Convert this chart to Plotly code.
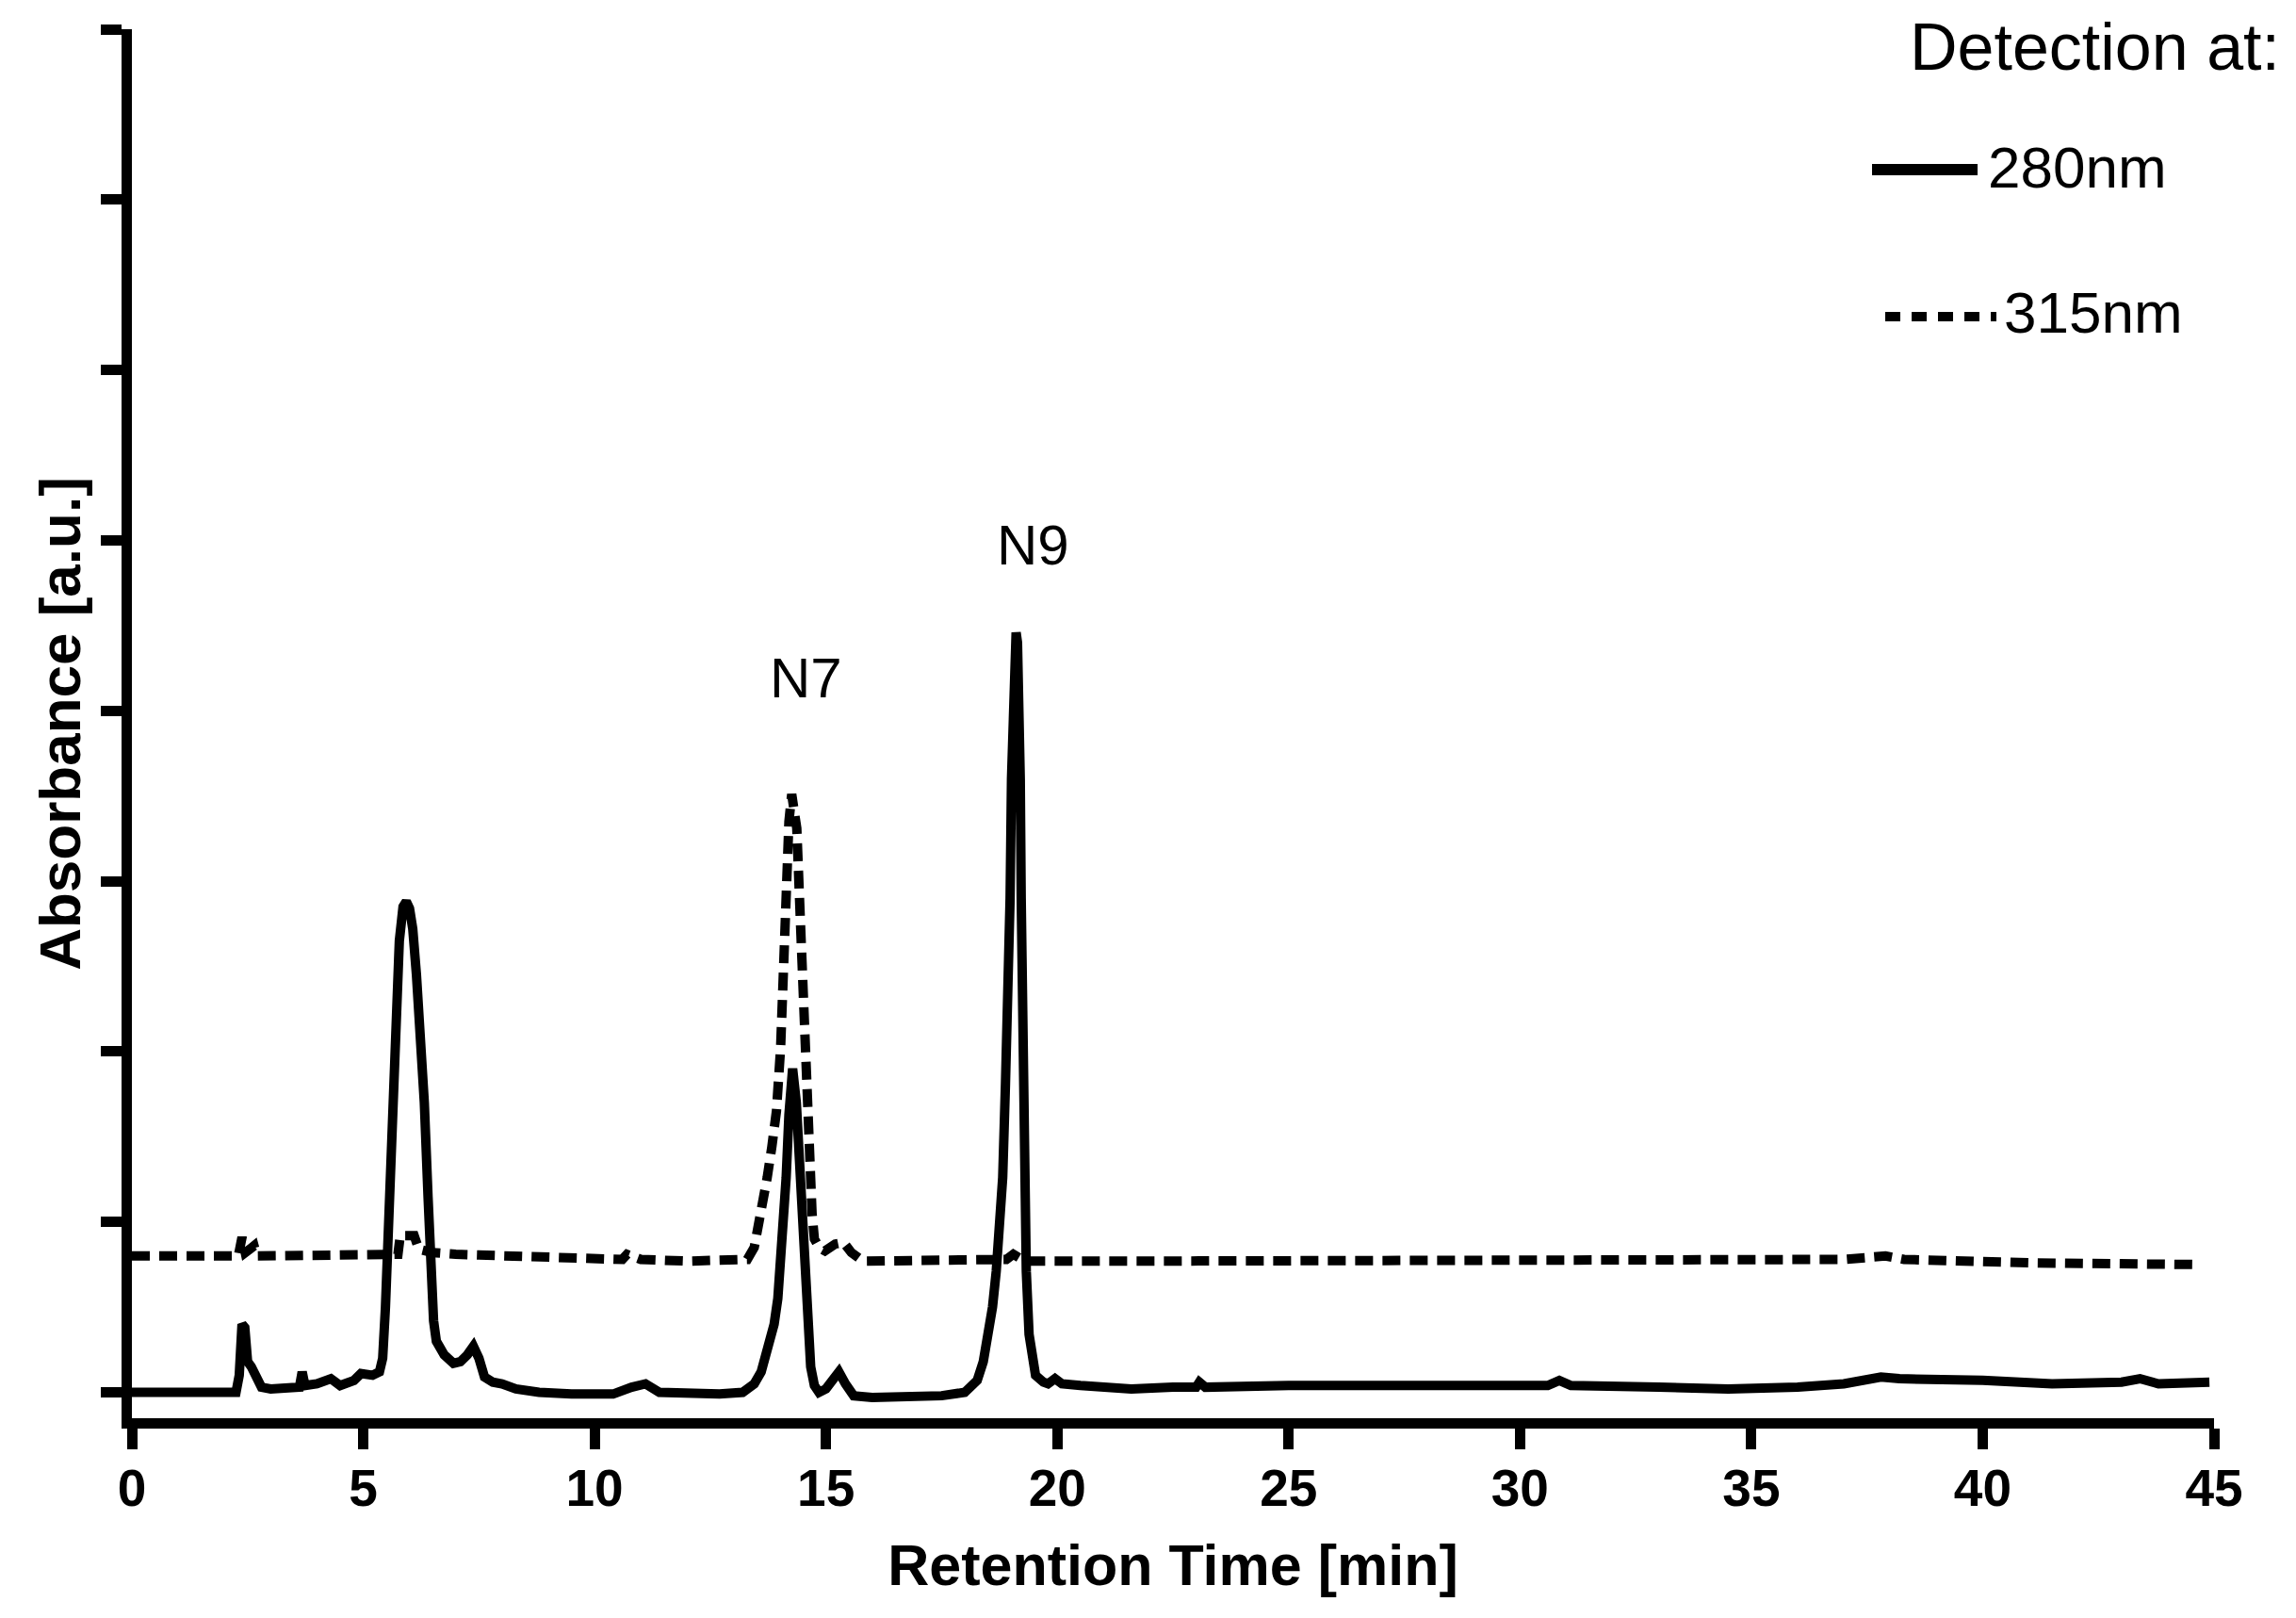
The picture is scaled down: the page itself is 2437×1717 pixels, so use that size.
import plotly.graph_objects as go

# ---- data (retention time in min, absorbance in a.u.) ----
t_280 = [0.0, 1.0, 2.0, 2.25, 2.32, 2.38, 2.44, 2.50, 2.58, 2.65, 2.80, 3.0, 3.5, 3.62, 3.68, 3.74,
         4.0, 4.3, 4.5, 4.8, 4.95, 5.2, 5.35, 5.42, 5.48, 5.55, 5.62, 5.70, 5.78, 5.86, 5.93, 6.0,
         6.07, 6.15, 6.25, 6.32, 6.40, 6.47, 6.52, 6.58, 6.75, 6.95, 7.1, 7.25, 7.38, 7.5, 7.62,
         7.8, 8.0, 8.3, 8.8, 9.5, 10.4, 10.8, 11.1, 11.4, 12.0, 12.7, 13.2, 13.45, 13.6, 13.75,
         13.88, 13.96, 14.06, 14.14, 14.2, 14.28, 14.36, 14.44, 14.51, 14.57, 14.63, 14.67, 14.75,
         14.85, 15.0, 15.15, 15.28, 15.42, 15.6, 16.0, 17.0, 17.5, 18.0, 18.15, 18.27, 18.4, 18.51,
         18.6, 18.68, 18.76, 18.82, 18.88, 18.94, 18.98, 19.01, 19.04, 19.08, 19.11, 19.14, 19.17,
         19.2, 19.22, 19.24, 19.27, 19.29, 19.33, 19.39, 19.45, 19.53, 19.7, 19.8, 19.95, 20.1,
         20.5, 21.6, 22.5, 23.0, 23.07, 23.2, 25.0, 27.0, 29.0, 30.6, 30.85, 31.1, 33.0, 34.5,
         36.0, 37.0, 37.8, 38.2, 40.0, 41.5, 43.0, 43.4, 43.8, 44.5, 44.9]
a_280 = [0.00, 0.00, 0.00, 0.00, 0.10, 0.40, 0.38, 0.18, 0.15, 0.10, 0.03, 0.02, 0.02, 0.03, 0.12, 0.04,
         0.05, 0.08, 0.04, 0.07, 0.11, 0.10, 0.12, 0.20, 0.50, 1.00, 1.55, 2.25, 2.65, 2.85, 2.88, 2.84,
         2.72, 2.45, 2.10, 1.70, 1.15, 0.65, 0.42, 0.30, 0.22, 0.17, 0.18, 0.22, 0.27, 0.20, 0.09,
         0.06, 0.05, 0.02, 0.00, -0.01, -0.01, 0.03, 0.05, 0.00, -0.01, -0.01, 0.00, 0.05, 0.12, 0.25,
         0.40, 0.55, 0.89, 1.26, 1.63, 1.90, 1.70, 1.26, 0.89, 0.52, 0.25, 0.15, 0.04,
         0.00, 0.02, 0.07, 0.12, 0.05, -0.02, -0.03, -0.03, -0.02, 0.00, 0.03, 0.07, 0.18, 0.34,
         0.50, 0.71, 1.00, 1.26, 1.81, 2.37, 2.90, 3.60, 4.10, 4.40, 4.46, 4.40, 4.10,
         3.60, 2.90, 2.37, 1.81, 1.26, 0.71, 0.34, 0.18, 0.10, 0.06, 0.05, 0.08, 0.05,
         0.04, 0.02, 0.03, 0.03, 0.06, 0.03, 0.04, 0.04, 0.04, 0.04, 0.07, 0.04, 0.03, 0.02,
         0.03, 0.05, 0.09, 0.08, 0.07, 0.05, 0.06, 0.08, 0.05, 0.05, 0.06]

t_315 = [0.0, 1.0, 2.0, 2.3, 2.38, 2.45, 2.55, 2.64, 2.7, 3.5, 4.5, 5.5, 5.75, 5.8, 6.1, 6.2, 6.5,
         7.0, 8.0, 9.0, 10.0, 10.6, 10.7, 11.0, 12.0, 13.0, 13.3, 13.45, 13.63, 13.73, 13.83, 13.93,
         14.02, 14.06, 14.12, 14.2, 14.26, 14.32, 14.37, 14.45, 14.52, 14.57, 14.64, 14.7, 14.75,
         14.85, 14.98, 15.2, 15.38, 15.55, 15.8, 17.0, 18.0, 18.9, 19.05, 19.3, 21.6, 25.0, 30.0,
         33.0, 37.0, 37.9, 38.3, 41.0, 44.6]
a_315 = [0.80, 0.80, 0.80, 0.80, 0.91, 0.82, 0.84, 0.86, 0.80, 0.80, 0.80, 0.80, 0.81, 0.92, 0.92, 0.84, 0.82,
         0.81, 0.80, 0.79, 0.78, 0.78, 0.81, 0.78, 0.77, 0.77, 0.78, 0.85, 1.08, 1.26, 1.44, 1.65,
         2.02, 2.38, 2.94, 3.35, 3.51, 3.42, 3.31, 2.75, 2.20, 1.83, 1.28, 1.05, 0.90,
         0.85, 0.83, 0.87, 0.88, 0.82, 0.77, 0.77, 0.77, 0.78, 0.81, 0.77, 0.77, 0.77, 0.77,
         0.77, 0.78, 0.80, 0.78, 0.76, 0.75]

x_ticks = [0, 5, 10, 15, 20, 25, 30, 35, 40, 45]
y_ticks = [0, 1, 2, 3, 4, 5, 6, 7, 8]

peak_names = ["N7", "N9"]
peak_label_x = [14.57, 19.47]
peak_label_y = [4.19, 4.97]

series_names = ["280nm", "315nm"]

# ---- figure geometry (page body has an 8px margin) ----
OFF = 8
W, H = 2437 - 2 * OFF, 1717 - 2 * OFF
LW = 11
ML, MR, MT, MB = 132, 79, 23, 203.5
PW, PH = W - ML - MR, H - MT - MB
FONT = "Liberation Sans, Arial, sans-serif"
DOT = "19px,10px"

X_MIN, X_MAX = 0, 45
Y_MIN, Y_MAX = -0.152, 8


def px2paper_x(px):
    return (px - OFF - ML) / PW


def px2paper_y(py):
    return (H - MB - (py - OFF)) / PH


fig = go.Figure()
fig.add_trace(go.Scatter(x=t_280, y=a_280, mode="lines", name=series_names[0],
                         line=dict(color="black", width=10), showlegend=False))
fig.add_trace(go.Scatter(x=t_315, y=a_315, mode="lines", name=series_names[1],
                         line=dict(color="black", width=10, dash=DOT), showlegend=False))

for name, lx, ly in zip(peak_names, peak_label_x, peak_label_y):
    fig.add_annotation(x=lx, y=ly, xref="x", yref="y", text=name, showarrow=False,
                       font=dict(family=FONT, size=60, color="black"),
                       xanchor="center", yanchor="middle")

# legend drawn as key lines + labels
fig.add_annotation(x=px2paper_x(2422), y=px2paper_y(50), xref="paper", yref="paper",
                   text="Detection at:", showarrow=False, xanchor="right", yanchor="middle",
                   font=dict(family=FONT, size=70, color="black"))
fig.add_annotation(x=px2paper_x(2108), y=px2paper_y(178), xref="paper", yref="paper",
                   text=series_names[0], showarrow=False, xanchor="left", yanchor="middle",
                   font=dict(family=FONT, size=62, color="black"))
fig.add_annotation(x=px2paper_x(2125), y=px2paper_y(332), xref="paper", yref="paper",
                   text=series_names[1], showarrow=False, xanchor="left", yanchor="middle",
                   font=dict(family=FONT, size=62, color="black"))
fig.add_shape(type="line", xref="paper", yref="paper",
              x0=px2paper_x(1987), x1=px2paper_x(2099), y0=px2paper_y(180), y1=px2paper_y(180),
              line=dict(color="black", width=12))
fig.add_shape(type="line", xref="paper", yref="paper",
              x0=px2paper_x(2001), x1=px2paper_x(2119), y0=px2paper_y(336), y1=px2paper_y(336),
              line=dict(color="black", width=10, dash="16px,12px"))

fig.update_layout(
    width=W, height=H,
    margin=dict(l=ML, r=MR, t=MT, b=MB, autoexpand=False),
    paper_bgcolor="white", plot_bgcolor="white",
    font=dict(family=FONT, color="black"),
    showlegend=False,
)
fig.update_xaxes(
    range=[X_MIN, X_MAX], tickvals=x_ticks, ticktext=[str(v) for v in x_ticks],
    showline=True, linecolor="black", linewidth=LW,
    ticks="outside", ticklen=22, tickwidth=11, tickcolor="black",
    ticklabelstandoff=-6,
    showgrid=False, zeroline=False,
    tickfont=dict(family=FONT, size=55, color="black", weight="bold"),
    title=dict(text="Retention Time [min]", standoff=35,
               font=dict(family=FONT, size=61, color="black", weight="bold")),
)
fig.update_yaxes(
    range=[Y_MIN, Y_MAX], tickvals=y_ticks, showticklabels=False,
    showline=True, linecolor="black", linewidth=LW,
    ticks="outside", ticklen=22, tickwidth=11, tickcolor="black",
    showgrid=False, zeroline=False,
    title=dict(text="Absorbance [a.u.]", standoff=6,
               font=dict(family=FONT, size=62, color="black", weight="bold")),
)

fig.write_html("out.html")
